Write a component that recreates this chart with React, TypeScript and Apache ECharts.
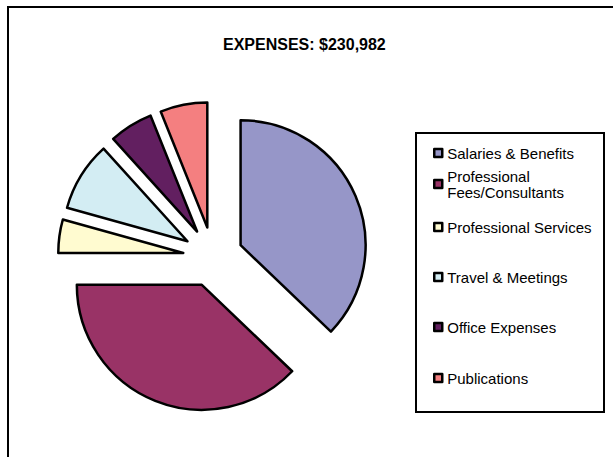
import React, { useEffect, useRef } from "react";
import * as echarts from "echarts";

const titleText = "EXPENSES: $230,982";
const categories = [
  "Salaries & Benefits",
  "Professional Fees/Consultants",
  "Professional Services",
  "Travel & Meetings",
  "Office Expenses",
  "Publications",
];
const legendLabels = [
  "Salaries & Benefits",
  "Professional\nFees/Consultants",
  "Professional Services",
  "Travel & Meetings",
  "Office Expenses",
  "Publications",
];
const values = [85800, 87450, 9950, 20720, 13020, 14042];
const colors = ["#9696C8", "#993366", "#FFFBD0", "#D3EDF3", "#621F60", "#F47F80"];
const legendTops = [145, 168, 219, 269, 319, 370];

const FONT = "'Liberation Sans', Arial, sans-serif";

export default function App() {
  const ref = useRef<HTMLDivElement>(null);
  useEffect(() => {
    if (!ref.current) return;
    const chart = echarts.init(ref.current, undefined, { renderer: "svg" });
    const data = categories.map((name, i) => ({
      name,
      value: values[i],
      selected: true,
      itemStyle: { color: colors[i] },
    }));
    const labelMap: Record<string, string> = {};
    categories.forEach((c, i) => (labelMap[c] = legendLabels[i]));
    chart.setOption({
      animation: false,
      backgroundColor: "#ffffff",
      color: colors,
      title: {
        text: titleText,
        left: 218,
        top: 31,
        textStyle: {
          fontFamily: FONT,
          fontSize: 16,
          fontWeight: "bold",
          color: "#000",
        },
      },
      legend: categories.map((c, i) => ({
        data: [c],
        left: 433,
        top: legendTops[i],
        orient: "vertical",
        padding: 0,
        selectedMode: false,
        icon: "rect",
        itemWidth: 8,
        itemHeight: 8,
        itemStyle: { borderColor: "#000", borderWidth: 2.5 },
        formatter: (n: string) => labelMap[n] || n,
        textStyle: {
          fontFamily: FONT,
          fontSize: 15,
          lineHeight: 16,
          color: "#000",
        },
      })),
      graphic: [
        {
          type: "rect",
          shape: { x: 8, y: 7, width: 700, height: 500 },
          style: { fill: "none", stroke: "#000", lineWidth: 2 },
          silent: true,
        },
        {
          type: "rect",
          shape: { x: 416, y: 133, width: 188, height: 279 },
          style: { fill: "none", stroke: "#000", lineWidth: 2 },
          silent: true,
        },
      ],
      series: [
        {
          type: "pie",
          center: [213, 257],
          radius: [0, 125],
          startAngle: 90,
          clockwise: true,
          selectedMode: "multiple",
          selectedOffset: 30,
          label: { show: false },
          labelLine: { show: false },
          emphasis: { disabled: true },
          itemStyle: { borderColor: "#000", borderWidth: 2.5 },
          select: { itemStyle: { borderColor: "#000", borderWidth: 2.5 } },
          data,
        },
      ],
    });
    return () => chart.dispose();
  }, []);
  return (
    <div
      ref={ref}
      style={{ position: "fixed", left: 0, top: 0, width: 613, height: 457 }}
    />
  );
}
